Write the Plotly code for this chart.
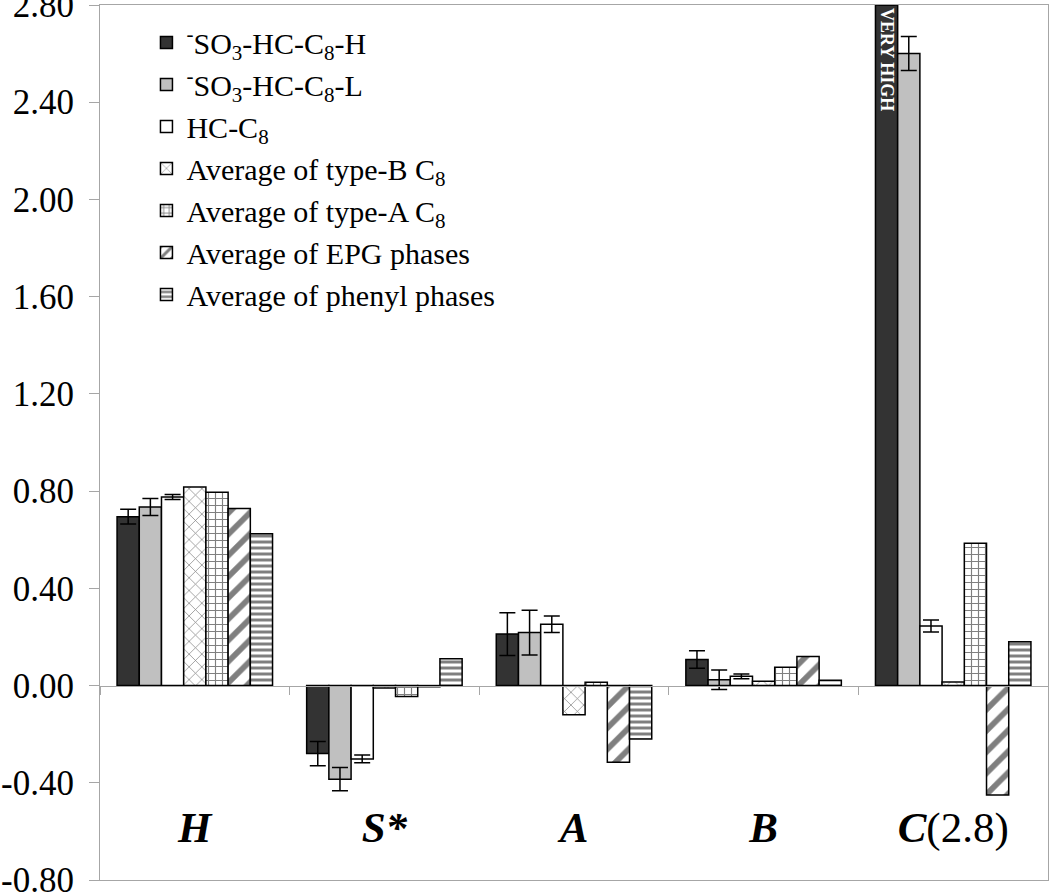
import plotly.graph_objects as go

categories = ["H", "S*", "A", "B", "C(2.8)"]
cat_labels = ["<b><i>H</i></b>", "<b><i>S*</i></b>", "<b><i>A</i></b>", "<b><i>B</i></b>", "<b><i>C</i></b>(2.8)"]

series_names = [
    "<sup>-</sup>SO<sub>3</sub>-HC-C<sub>8</sub>-H",
    "<sup>-</sup>SO<sub>3</sub>-HC-C<sub>8</sub>-L",
    "HC-C<sub>8</sub>",
    "Average of type-B C<sub>8</sub>",
    "Average of type-A C<sub>8</sub>",
    "Average of EPG phases",
    "Average of phenyl phases",
]

so3_h = [0.695, -0.280, 0.212, 0.107, 2.80]   # C value is off-scale ("VERY HIGH"), shown capped
so3_h_err = [0.030, 0.050, 0.088, 0.036, 0.0]
so3_l = [0.735, -0.385, 0.218, 0.024, 2.60]
so3_l_err = [0.035, 0.048, 0.092, 0.040, 0.070]
hc_c8 = [0.776, -0.302, 0.252, 0.038, 0.245]
hc_c8_err = [0.010, 0.016, 0.034, 0.010, 0.025]
type_b = [0.817, -0.010, -0.120, 0.018, 0.015]
type_a = [0.795, -0.045, 0.014, 0.075, 0.585]
epg = [0.728, -0.005, -0.316, 0.120, -0.450]
phenyl = [0.625, 0.110, -0.220, 0.022, 0.180]

y_min, y_max = -0.8, 2.8
y_ticks = [-0.8, -0.4, 0.0, 0.4, 0.8, 1.2, 1.6, 2.0, 2.4, 2.8]
y_ticktext = ["-0.80", "-0.40", "0.00", "0.40", "0.80", "1.20", "1.60", "2.00", "2.40", "2.80"]
very_high_text = ["", "", "", "", "<b>VERY HIGH</b>"]

FONT = "Liberation Serif"
GRAY = "#a6a6a6"

fig = go.Figure()

def err(arr):
    return dict(type="data", array=arr, visible=True, color="black", thickness=1.5, width=8)

line = dict(color="black", width=1.5)

fig.add_trace(go.Bar(x=categories, y=so3_h, name=series_names[0],
                     marker=dict(color="#333333", line=line), error_y=err(so3_h_err),
                     text=very_high_text, textposition="inside", textangle=90,
                     insidetextanchor="end", constraintext="none",
                     insidetextfont=dict(family=FONT, size=18, color="white")))
fig.add_trace(go.Bar(x=categories, y=so3_l, name=series_names[1],
                     marker=dict(color="#c0c0c0", line=line), error_y=err(so3_l_err)))
fig.add_trace(go.Bar(x=categories, y=hc_c8, name=series_names[2],
                     marker=dict(color="white", line=line), error_y=err(hc_c8_err)))
fig.add_trace(go.Bar(x=categories, y=type_b, name=series_names[3],
                     marker=dict(color="white", line=line,
                                 pattern=dict(shape="x", fgcolor="black", size=9, solidity=0.15, fillmode="overlay"))))
fig.add_trace(go.Bar(x=categories, y=type_a, name=series_names[4],
                     marker=dict(color="white", line=line,
                                 pattern=dict(shape="+", fgcolor="black", size=7, solidity=0.3, fillmode="overlay"))))
fig.add_trace(go.Bar(x=categories, y=epg, name=series_names[5],
                     marker=dict(color="white", line=line,
                                 pattern=dict(shape="/", fgcolor="black", size=15, solidity=0.38, fillmode="overlay"))))
fig.add_trace(go.Bar(x=categories, y=phenyl, name=series_names[6],
                     marker=dict(color="white", line=line,
                                 pattern=dict(shape="-", fgcolor="black", size=6, solidity=0.5, fillmode="overlay"))))

zero_pos = (0 - y_min) / (y_max - y_min)

fig.update_layout(
    width=1050, height=893,
    margin=dict(l=100, r=2, t=5, b=13, autoexpand=False),
    paper_bgcolor="white", plot_bgcolor="white",
    barmode="group", bargap=0.18, bargroupgap=0,
    font=dict(family=FONT, color="black", size=30),
    showlegend=True,
    legend=dict(x=0.049, y=0.987, xanchor="left", yanchor="top",
                font=dict(family=FONT, size=30, color="black"),
                bgcolor="rgba(0,0,0,0)", tracegroupgap=0),
    xaxis=dict(type="category", categoryorder="array", categoryarray=categories,
               anchor="free", position=zero_pos, automargin=False,
               showline=True, linecolor=GRAY, linewidth=1,
               ticks="outside", tickson="boundaries", ticklen=8, tickcolor=GRAY,
               showticklabels=False, showgrid=False, zeroline=False),
    xaxis2=dict(overlaying="x", anchor="y", side="bottom", automargin=False,
                range=[-0.5, len(categories) - 0.5],
                tickmode="array", tickvals=list(range(len(categories))), ticktext=cat_labels,
                ticks="", showline=True, linecolor=GRAY, linewidth=1, mirror=True,
                ticklabelposition="outside", ticklabelstandoff=-91, ticklabeloverflow="allow",
                tickfont=dict(family=FONT, size=43, color="black"),
                showgrid=False, zeroline=False),
    yaxis=dict(range=[y_min, y_max], tickmode="array", tickvals=y_ticks, ticktext=y_ticktext,
               automargin=False, ticklabeloverflow="allow",
               showline=True, linecolor=GRAY, linewidth=1, mirror=True,
               ticks="outside", ticklen=10, tickcolor=GRAY, ticklabelstandoff=8,
               tickfont=dict(family=FONT, size=35, color="black"),
               showgrid=False, zeroline=False),
)

# invisible helper so xaxis2 is rendered
fig.add_trace(go.Scatter(x=[0], y=[0], xaxis="x2", yaxis="y", mode="markers",
                         marker=dict(opacity=0), showlegend=False, hoverinfo="skip"))

fig.write_html("out.html", config={"displayModeBar": False},
               post_script="document.body.style.margin='0px';")
